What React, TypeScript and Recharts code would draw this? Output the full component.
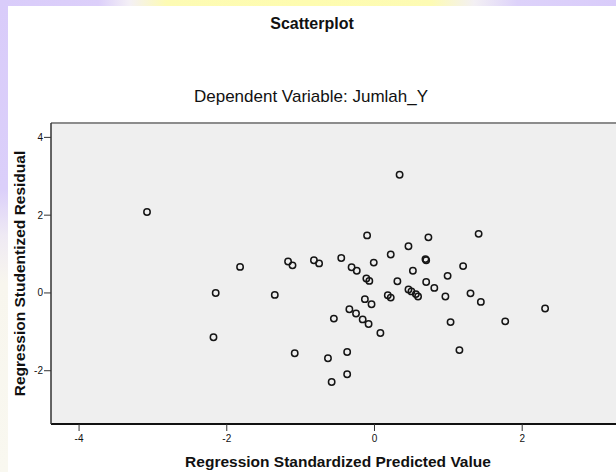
import React from "react";
import { ScatterChart, Scatter, XAxis, YAxis, ReferenceArea, ReferenceLine } from "recharts";

const predictedValues = [
  -3.08, -1.82, -2.15, -2.18, -1.35, -1.17, -1.11, -1.08, -0.82, -0.75, -0.55, -0.63, -0.58,
  0.34, -0.10, 0.73, 1.41, 0.46, 0.22, -0.45, -0.31, -0.24, -0.01, -0.11, -0.07, 0.31,
  0.69, 0.70, 0.52, 1.20, 0.99, 0.70, 0.81, 0.46, 0.50, 0.56, 0.59, 0.18, 0.22, 0.96,
  1.30, 1.44, -0.13, -0.04, -0.34, -0.25, -0.16, -0.08, 0.08, 1.03, 1.77, 2.31, 1.15,
  -0.37, -0.37,
];
const studentizedResiduals = [
  2.08, 0.67, 0.0, -1.14, -0.05, 0.81, 0.71, -1.55, 0.84, 0.76, -0.66, -1.68, -2.29,
  3.04, 1.48, 1.43, 1.52, 1.2, 0.99, 0.9, 0.66, 0.57, 0.78, 0.37, 0.31, 0.3,
  0.87, 0.84, 0.57, 0.69, 0.44, 0.28, 0.13, 0.09, 0.04, -0.03, -0.09, -0.06, -0.12, -0.09,
  -0.01, -0.23, -0.16, -0.29, -0.42, -0.53, -0.68, -0.8, -1.03, -0.75, -0.73, -0.4, -1.47,
  -1.52, -2.09,
];
const xTicks = [-4, -2, 0, 2];
const yTicks = [-2, 0, 2, 4];
const xDomain = [-4.38, 3.27];
const yDomain = [-3.37, 4.37];

const chartTitle = "Scatterplot";
const chartSubtitle = "Dependent Variable: Jumlah_Y";
const xTitle = "Regression Standardized Predicted Value";
const yTitle = "Regression Studentized Residual";

const data = predictedValues.map((x, i) => ({ x, y: studentizedResiduals[i] }));

const FONT = "'Liberation Sans', Arial, sans-serif";

const OpenCircle = (props: any) => {
  const { cx, cy } = props;
  if (cx == null || cy == null) return null;
  return <circle cx={cx} cy={cy} r={3.2} fill="none" stroke="#151515" strokeWidth={1.5} />;
};

export default function App() {
  return (
    <div
      style={{
        position: "absolute",
        left: 0,
        top: 0,
        width: 616,
        height: 472,
        overflow: "hidden",
        background: "#ffffff",
      }}
    >
      <div
        style={{
          position: "absolute",
          left: 0,
          top: 0,
          width: 616,
          height: 6,
          background:
            "linear-gradient(to right, #d9ccfa 0%, #dccffa 16%, #f4f0f6 21%, #fdfbb4 27%, #fefcb0 50%, #fdfbb4 70%, #f3f0f4 77%, #ddd2fa 84%, #d9ccfa 100%)",
        }}
      />
      <div
        style={{
          position: "absolute",
          left: 0,
          top: 0,
          width: 8,
          height: 472,
          background:
            "linear-gradient(to bottom, #d9ccfa 0%, #dbcffa 40%, #efeaf4 50%, #f8f6ee 60%, #f9f8f0 100%)",
        }}
      />
      <div style={{ position: "absolute", left: 0, top: 0 }}>
        <ScatterChart
          width={616}
          height={472}
          margin={{ top: 123, right: 0, bottom: 20, left: 13 }}
        >
          <XAxis
            type="number"
            dataKey="x"
            domain={xDomain}
            allowDataOverflow
            ticks={xTicks}
            height={28}
            tickSize={7}
            tickMargin={4}
            axisLine={{ stroke: "#111", strokeWidth: 2 }}
            tickLine={{ stroke: "#333", strokeWidth: 1 }}
            tick={{ fontFamily: FONT, fontSize: 10, fill: "#111" }}
          />
          <YAxis
            type="number"
            dataKey="y"
            domain={yDomain}
            allowDataOverflow
            ticks={yTicks}
            width={38}
            tickSize={7}
            tickMargin={1}
            axisLine={{ stroke: "#333", strokeWidth: 1.5 }}
            tickLine={{ stroke: "#333", strokeWidth: 1 }}
            tick={{ fontFamily: FONT, fontSize: 10, fill: "#111" }}
          />
          <ReferenceArea
            x1={xDomain[0]}
            x2={xDomain[1]}
            y1={yDomain[0]}
            y2={yDomain[1]}
            fill="#efefef"
            fillOpacity={1}
            stroke="none"
          />
          <ReferenceLine y={yDomain[1]} stroke="#8c8c8c" strokeWidth={2} />
          <Scatter data={data} shape={OpenCircle} isAnimationActive={false} />
        </ScatterChart>
      </div>
      <svg
        width={616}
        height={472}
        style={{ position: "absolute", left: 0, top: 0, pointerEvents: "none" }}
      >
        <text x={312} y={28.7} textAnchor="middle" fontFamily={FONT} fontSize={16} fontWeight="bold" fill="#111">
          {chartTitle}
        </text>
        <text x={311} y={102.3} textAnchor="middle" fontFamily={FONT} fontSize={17} fill="#111">
          {chartSubtitle}
        </text>
        <text x={338} y={467} textAnchor="middle" fontFamily={FONT} fontSize={15.5} fontWeight="bold" fill="#111">
          {xTitle}
        </text>
        <text
          x={0}
          y={0}
          transform="translate(25,273.5) rotate(-90)"
          textAnchor="middle"
          fontFamily={FONT}
          fontSize={15.5}
          fontWeight="bold"
          fill="#111"
        >
          {yTitle}
        </text>
      </svg>
    </div>
  );
}
